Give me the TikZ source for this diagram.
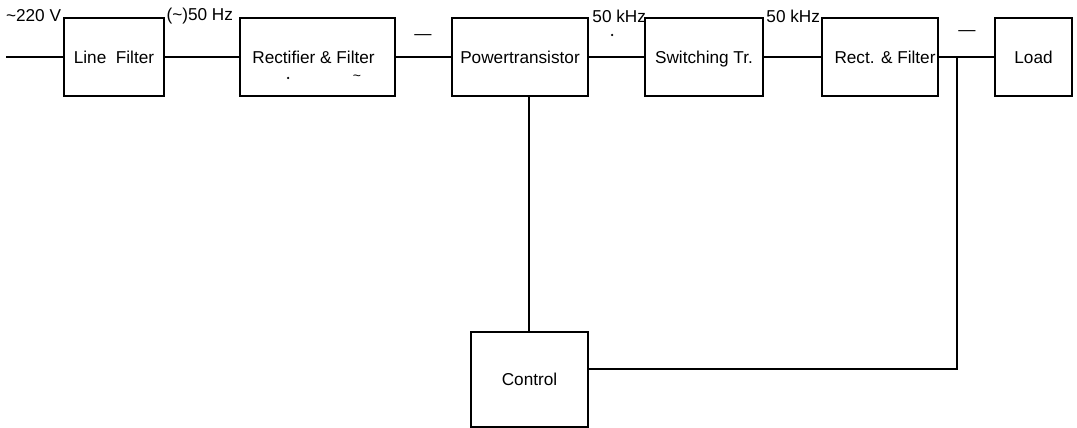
\documentclass[tikz,border=0pt]{standalone}
\usepackage{fontspec}
\setmainfont{Liberation Sans}
\begin{document}
\begin{tikzpicture}[x=1pt,y=-1pt,line width=2pt,
  txt/.style={font=\fontsize{17.2}{19}\selectfont},
  blk/.style={draw,txt,minimum width=#1,minimum height=78pt,inner sep=0pt,text height=13pt,text depth=-2pt},
  lbl/.style={txt,inner sep=0pt},
  speck/.style={fill,circle,inner sep=0pt,minimum size=2.5pt}]
\useasboundingbox (0,0) rectangle (1077,428);
\node[blk=100pt] (lf) at (114,57) {Line\ \ Filter};
\node[blk=155pt] (rf) at (317.5,57) {\hspace*{-8pt}Rectifier \& Filter};
\node[blk=136pt] (pt) at (520,57) {Powertransistor};
\node[blk=118pt] (sw) at (704,57) {Switching Tr.};
\node[blk=116pt] (rc) at (880,57) {\hspace*{10pt}Rect. \& Filter};
\node[blk=77pt] (ld) at (1033.5,57) {Load};
\node[draw,txt,minimum width=117pt,minimum height=95pt,inner sep=0pt] (ct) at (529.5,379.5) {Control};
\coordinate (in) at (6,57);
\coordinate (j) at (957,57);
\coordinate (ctn) at (529,332);
\draw (in) -- (lf.west);
\draw (lf) -- (rf);
\draw (rf) -- (pt);
\draw (pt) -- (sw);
\draw (sw) -- (rc);
\draw (rc) -- (ld);
\draw (ctn) -- (ctn |- pt.south);
\draw ([yshift=10.5pt]ct.east) -| (j);
\node[lbl,anchor=east] (v220) at ([xshift=-1pt,yshift=1pt]lf.north west) {\textasciitilde220 V};
\node[lbl,anchor=east] (hz50) at ([xshift=-5pt,yshift=1pt]rf.north west) {(\textasciitilde)50 Hz};
\node[lbl,anchor=east] (khz1) at ([xshift=3pt,yshift=1pt]sw.north west) {50 kHz};
\node[lbl,anchor=east] (khz2) at ([xshift=0pt,yshift=1pt]rc.north west) {50 kHz};
\node[lbl] (dc1) at (423,37) {—};
\node[lbl] (dc2) at (967,33) {—};
\node[speck] (d1) at (612,35) {};
\node[speck] (d2) at (288,78) {};
\node[lbl,font=\fontsize{14}{16}\selectfont] (t1) at (357,78) {\textasciitilde};
\end{tikzpicture}
\end{document}
